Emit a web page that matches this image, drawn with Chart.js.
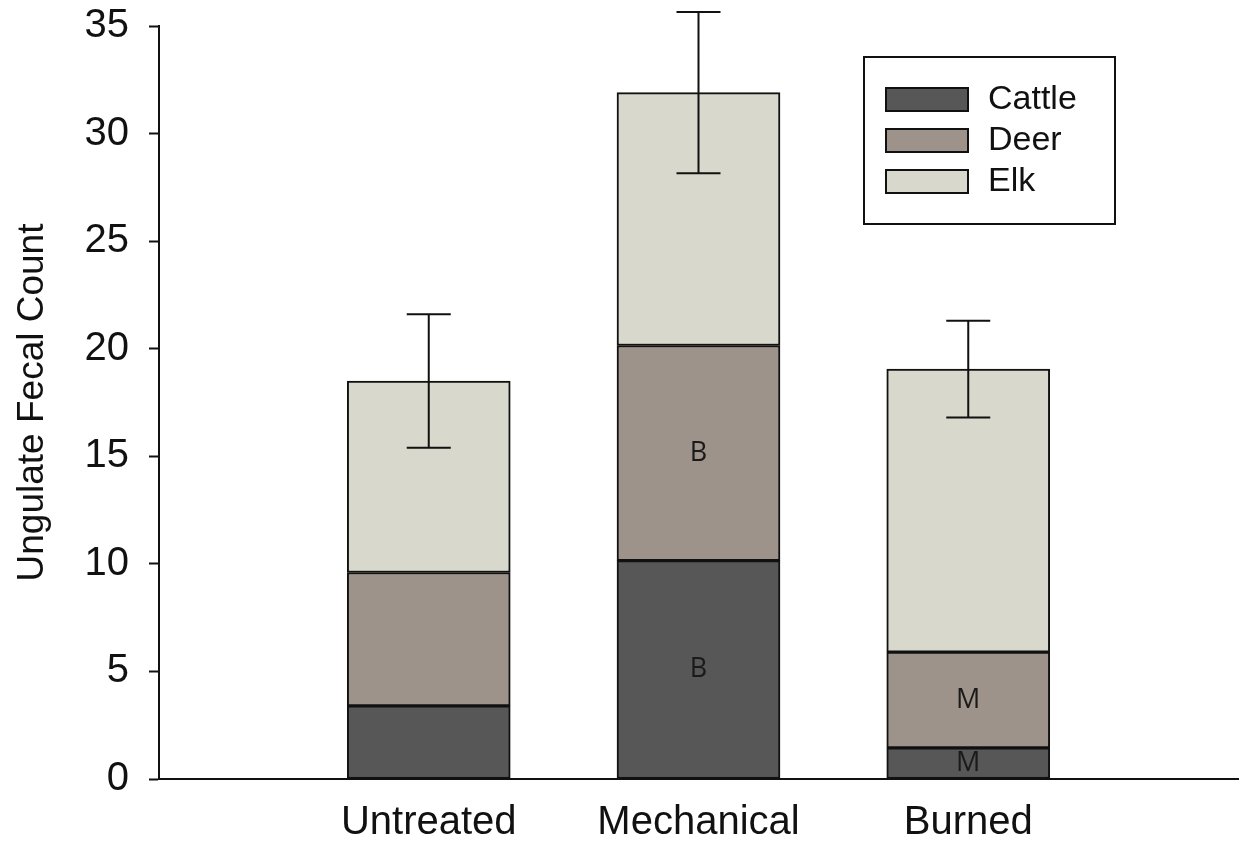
<!DOCTYPE html>
<html>
<head>
<meta charset="utf-8">
<script src="https://cdn.jsdelivr.net/npm/chart.js@4/dist/chart.umd.min.js"></script>
<style>
  body { margin: 0; background: #ffffff; }
</style>
</head>
<body>
<canvas id="chart" width="1244" height="845"></canvas>
<script>
// Data
const categories = ['Untreated', 'Mechanical', 'Burned'];
const cattle = [3.4, 10.15, 1.45];
const deer = [6.2, 10.0, 4.45];
const elk = [8.9, 11.75, 13.15];
const errors = [3.1, 3.75, 2.25];
const cattleLetters = ['', 'B', 'M'];
const deerLetters = ['', 'B', 'M'];

const colors = { cattle: '#575757', deer: '#9e938a', elk: '#d8d8cc' };
const font = "'Liberation Sans', Arial, sans-serif";

function toPoints(values) {
    return values.map(function(v, i) { return { x: i + 1, y: v }; });
}

// error bars on top of the stacks
const errorBars = {
    id: 'errorBars',
    afterDatasetsDraw(chart) {
        const ctx = chart.ctx;
        const xs = chart.scales.x, ys = chart.scales.y;
        ctx.save();
        ctx.strokeStyle = '#111';
        ctx.lineWidth = 2;
        categories.forEach(function(c, i) {
            const total = cattle[i] + deer[i] + elk[i];
            const x = xs.getPixelForValue(i + 1);
            const top = ys.getPixelForValue(total + errors[i]);
            const bot = ys.getPixelForValue(total - errors[i]);
            ctx.beginPath();
            ctx.moveTo(x, top); ctx.lineTo(x, bot);
            ctx.moveTo(x - 22, top); ctx.lineTo(x + 22, top);
            ctx.moveTo(x - 22, bot); ctx.lineTo(x + 22, bot);
            ctx.stroke();
        });
        // letters inside segments
        ctx.fillStyle = '#1a1a1a';
        ctx.font = "27px 'Open Sans', sans-serif";
        ctx.textAlign = 'center';
        ctx.textBaseline = 'middle';
        [[0, cattleLetters], [1, deerLetters]].forEach(function(pair) {
            const meta = chart.getDatasetMeta(pair[0]);
            pair[1].forEach(function(txt, i) {
                if (!txt) return;
                const el = meta.data[i];
                ctx.fillText(txt, el.x, (el.y + el.base) / 2);
            });
        });
        ctx.restore();
    }
};

// boxed legend at the top right
const boxLegend = {
    id: 'boxLegend',
    afterDraw(chart) {
        const ctx = chart.ctx;
        ctx.save();
        ctx.strokeStyle = '#111';
        ctx.lineWidth = 2;
        ctx.strokeRect(864, 57, 251, 167);
        ctx.font = '34px ' + font;
        ctx.textBaseline = 'middle';
        chart.data.datasets.forEach(function(ds, i) {
            const y = 88 + i * 41;
            ctx.fillStyle = ds.backgroundColor;
            ctx.fillRect(886, y, 82, 23);
            ctx.strokeRect(886, y, 82, 23);
            ctx.fillStyle = '#111';
            ctx.fillText(ds.label, 988, y + 12);
        });
        ctx.restore();
    }
};

new Chart(document.getElementById('chart'), {
    type: 'bar',
    data: {
        datasets: [
            { label: 'Cattle', data: toPoints(cattle), backgroundColor: colors.cattle },
            { label: 'Deer', data: toPoints(deer), backgroundColor: colors.deer },
            { label: 'Elk', data: toPoints(elk), backgroundColor: colors.elk }
        ]
    },
    options: {
        responsive: false,
        animation: false,
        layout: { padding: { top: 26, right: 6, left: 0, bottom: 0 } },
        datasets: {
            bar: {
                barThickness: 163,
                borderColor: '#111',
                borderWidth: 2,
                borderSkipped: false
            }
        },
        plugins: {
            legend: { display: false },
            tooltip: { enabled: false }
        },
        scales: {
            x: {
                type: 'linear',
                stacked: true,
                offset: false,
                min: 0,
                max: 4,
                grid: { display: false, drawTicks: false },
                border: { color: '#111', width: 2 },
                ticks: {
                    stepSize: 1,
                    autoSkip: false,
                    maxRotation: 0,
                    padding: 20,
                    color: '#111',
                    font: { family: font, size: 40 },
                    callback: function(v) { return categories[v - 1] || ''; }
                },
                afterFit: function(s) {
                    s.height = 66;
                    s.paddingLeft = 0;
                    s.paddingRight = 0;
                }
            },
            y: {
                stacked: true,
                min: 0,
                max: 35,
                grid: {
                    drawOnChartArea: false,
                    tickLength: 10,
                    tickColor: '#111',
                    tickWidth: 2
                },
                border: { color: '#111', width: 2 },
                ticks: {
                    stepSize: 5,
                    padding: 20,
                    color: '#111',
                    font: { family: font, size: 40 }
                },
                title: {
                    display: true,
                    text: 'Ungulate Fecal Count',
                    color: '#111',
                    padding: { top: 11, bottom: 0 },
                    font: { family: font, size: 37 }
                },
                afterFit: function(s) {
                    s.width = 159;
                    s.paddingTop = 0;
                    s.paddingBottom = 0;
                }
            }
        }
    },
    plugins: [errorBars, boxLegend]
});
</script>
</body>
</html>
